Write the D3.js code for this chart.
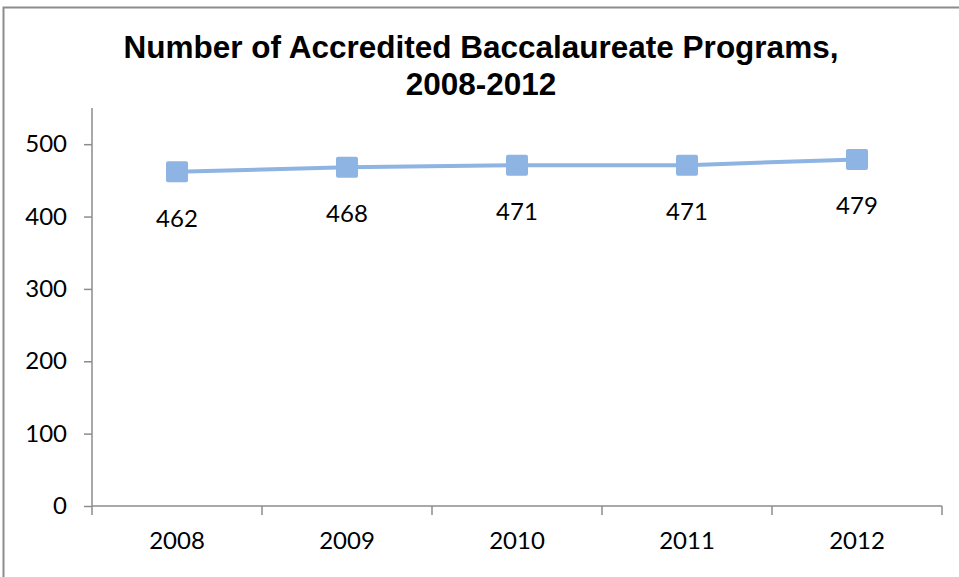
<!DOCTYPE html>
<html><head><meta charset="utf-8">
<script src="https://cdnjs.cloudflare.com/ajax/libs/d3/7.8.5/d3.min.js"></script>
<style>body{margin:0;background:#fff}svg{display:block}</style>
</head><body>
<script>
const categories = ["2008","2009","2010","2011","2012"];
const values = [462,468,471,471,479];
const yTicks = [0,100,200,300,400,500];
const title = ["Number of Accredited Baccalaureate Programs,","2008-2012"];

(function(){
const W=959,H=577;
const svg=d3.select("body").append("svg").attr("width",W).attr("height",H);
svg.append("rect").attr("x",3.5).attr("y",7.5).attr("width",W+10).attr("height",H+10)
  .attr("fill","#fff").attr("stroke","#8c8c8c").attr("stroke-width",2);

const mLeft=92,mRight=942,mTop=108,mBottom=506;
const x=d3.scaleBand().domain(categories).range([mLeft,mRight]);
const y=d3.scaleLinear().domain([0,550]).range([mBottom,mTop]);

svg.selectAll("text.title").data(title).join("text").attr("class","title")
  .attr("x",481).attr("y",(d,i)=>58+i*37).attr("text-anchor","middle")
  .attr("font-family","Liberation Sans, Arial, sans-serif").attr("font-weight","bold")
  .attr("font-size",31.5).attr("fill","#000").text(d=>d);

const axisColor="#8c8c8c";
const font="Lato, Open Sans, sans-serif";
const yAxis=svg.append("g").attr("transform",`translate(${mLeft},0)`)
  .call(d3.axisLeft(y).tickValues(yTicks).tickSize(8).tickPadding(17));
yAxis.select(".domain").attr("stroke",axisColor).attr("stroke-width",1.5).attr("d",`M0,${mBottom}V${mTop}`);
yAxis.selectAll(".tick line").attr("stroke",axisColor).attr("stroke-width",1.5);
yAxis.selectAll(".tick text").attr("font-family",font).attr("font-size",24).attr("fill","#000");

const xAxis=svg.append("g").attr("transform",`translate(0,${mBottom})`)
  .call(d3.axisBottom(x).tickSize(0));
xAxis.select(".domain").attr("stroke",axisColor).attr("stroke-width",1.5).attr("d",`M${mLeft},0H${mRight}`);
xAxis.selectAll(".tick text").attr("y",43).attr("dy",0).attr("font-family",font).attr("font-size",24).attr("fill","#000");
const bounds=categories.map(c=>x(c)).concat([x(categories[categories.length-1])+x.bandwidth()]);
xAxis.selectAll("line.sep").data(bounds).join("line").attr("class","sep")
  .attr("x1",d=>d).attr("x2",d=>d).attr("y1",0).attr("y2",9)
  .attr("stroke",axisColor).attr("stroke-width",1.5);

const cx=d=>x(d)+x.bandwidth()/2;
const color="#8db4e2";
svg.append("path").datum(values)
  .attr("d",d3.line().x((d,i)=>cx(categories[i])).y(d=>y(d)))
  .attr("fill","none").attr("stroke",color).attr("stroke-width",4);
svg.selectAll("rect.pt").data(values).join("rect").attr("class","pt")
  .attr("x",(d,i)=>cx(categories[i])-11).attr("y",d=>y(d)-10.5)
  .attr("width",22).attr("height",21).attr("rx",2).attr("fill",color);
svg.selectAll("text.lbl").data(values).join("text").attr("class","lbl")
  .attr("x",(d,i)=>cx(categories[i])).attr("y",d=>y(d)+55)
  .attr("text-anchor","middle").attr("font-family",font)
  .attr("font-size",24).attr("fill","#000").text(d=>d);
})();
</script>
</body></html>
